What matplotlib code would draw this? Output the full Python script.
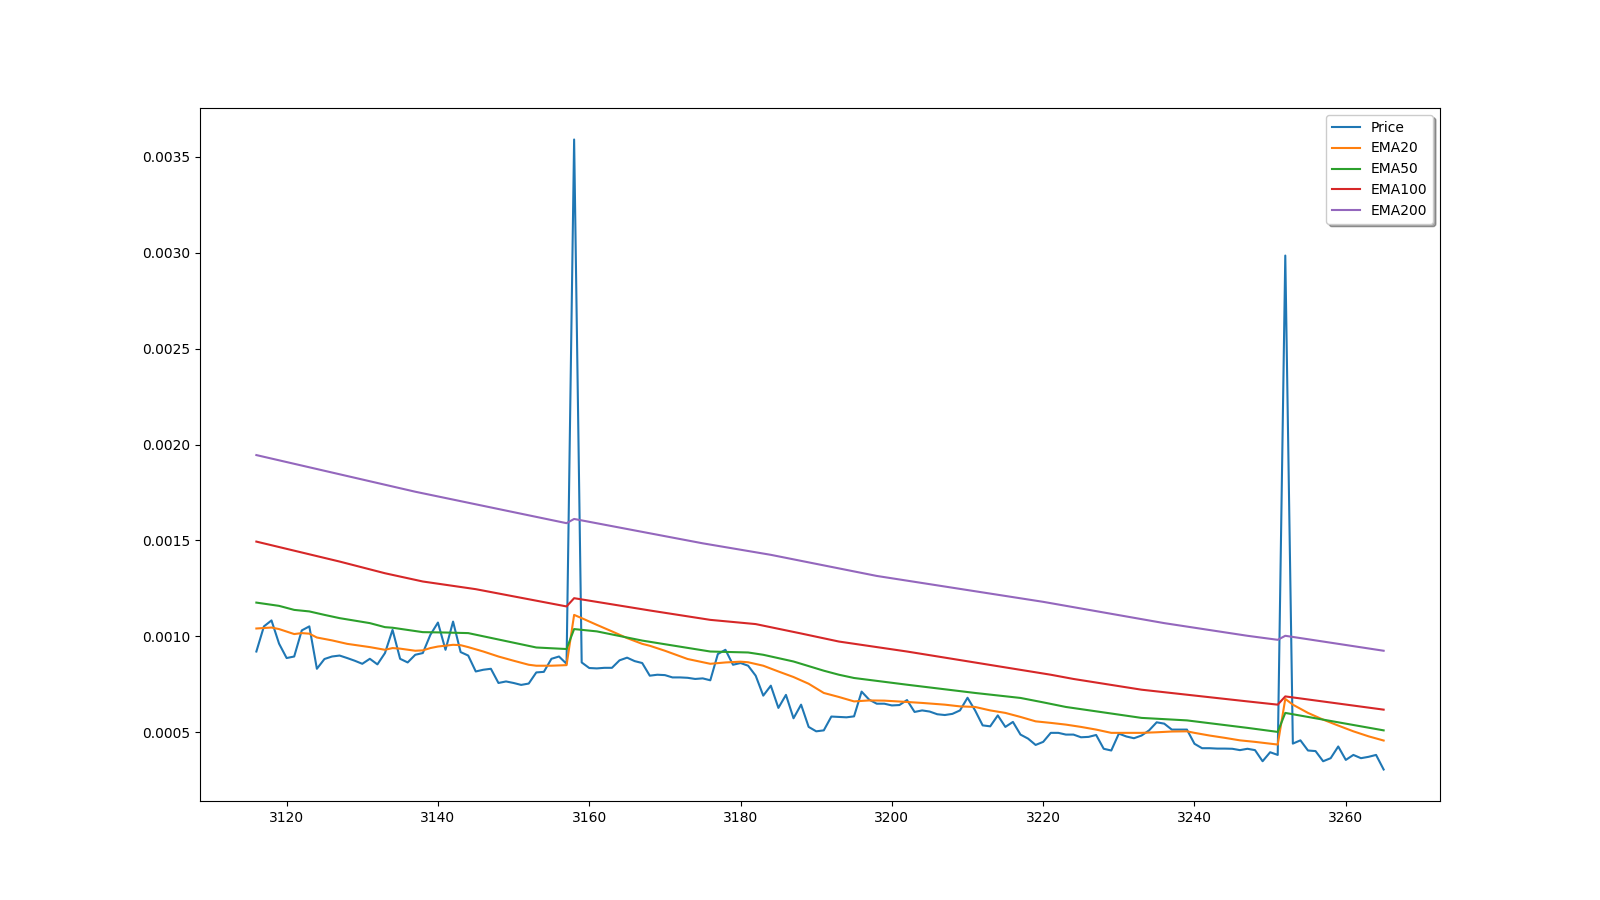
from matplotlib import pyplot as plt
import numpy as np


start_idx = 3116
price = [
    0.000921, 0.001052, 0.001083, 0.000962, 0.000887, 0.000895, 0.001031, 0.001052,
    0.000831, 0.000882, 0.000895, 0.000900, 0.000887, 0.000873, 0.000857, 0.000883,
    0.000854, 0.000913, 0.001034, 0.000883, 0.000864, 0.000904, 0.000913, 0.001008,
    0.001072, 0.000930, 0.001077, 0.000918, 0.000900, 0.000817, 0.000826, 0.000831,
    0.000757, 0.000765, 0.000757, 0.000747, 0.000754, 0.000812, 0.000815, 0.000883,
    0.000895, 0.000857, 0.003590, 0.000864, 0.000835, 0.000833, 0.000836, 0.000836,
    0.000875, 0.000889, 0.000871, 0.000861, 0.000795, 0.000800, 0.000798, 0.000786,
    0.000786, 0.000784, 0.000778, 0.000781, 0.000771, 0.000908, 0.000930, 0.000852,
    0.000861, 0.000847, 0.000795, 0.000691, 0.000743, 0.000627, 0.000695, 0.000573,
    0.000644, 0.000528, 0.000505, 0.000510, 0.000582, 0.000580, 0.000578, 0.000583,
    0.000712, 0.000670, 0.000649, 0.000649, 0.000640, 0.000642, 0.000668, 0.000606,
    0.000614, 0.000608, 0.000594, 0.000590, 0.000596, 0.000614, 0.000680, 0.000614,
    0.000536, 0.000531, 0.000588, 0.000528, 0.000554, 0.000488, 0.000467, 0.000434,
    0.000450, 0.000497, 0.000497, 0.000488, 0.000488, 0.000474, 0.000476, 0.000486,
    0.000414, 0.000405, 0.000493, 0.000478, 0.000469, 0.000483, 0.000510, 0.000552,
    0.000545, 0.000514, 0.000514, 0.000514, 0.000440, 0.000417, 0.000417, 0.000415,
    0.000415, 0.000414, 0.000407, 0.000414, 0.000407, 0.000349, 0.000396, 0.000382,
    0.002985, 0.000441, 0.000458, 0.000405, 0.000402, 0.000349, 0.000365, 0.000426,
    0.000356, 0.000382, 0.000365, 0.000372, 0.000382, 0.000306,
]

# EMA values read at the points where the lines bend
ema20_x = [3116, 3118, 3119, 3121, 3122, 3123, 3124, 3126, 3128, 3131, 3133, 3134,
           3135, 3137, 3138, 3139, 3140, 3142, 3143, 3144, 3146, 3148, 3150, 3152,
           3153, 3155, 3157, 3158, 3159, 3161, 3163, 3165, 3167, 3168, 3170, 3173,
           3176, 3178, 3180, 3181, 3183, 3185, 3187, 3189, 3191, 3193, 3195, 3197,
           3199, 3202, 3204, 3207, 3209, 3211, 3213, 3215, 3217, 3219, 3221, 3223,
           3225, 3227, 3229, 3231, 3233, 3235, 3237, 3239, 3240, 3242, 3244, 3246,
           3248, 3251, 3252, 3253, 3255, 3257, 3259, 3261, 3263, 3265]
ema20 = [0.001041, 0.001046, 0.001038, 0.001012, 0.001017, 0.001014, 0.000994,
         0.000979, 0.000961, 0.000944, 0.000930, 0.000939, 0.000936, 0.000925,
         0.000927, 0.000939, 0.000947, 0.000956, 0.000954, 0.000944, 0.000921,
         0.000895, 0.000873, 0.000852, 0.000847, 0.000847, 0.000850, 0.001112,
         0.001095, 0.001060, 0.001026, 0.000991, 0.000961, 0.000951, 0.000925,
         0.000882, 0.000857, 0.000864, 0.000868, 0.000865, 0.000847, 0.000817,
         0.000788, 0.000753, 0.000705, 0.000684, 0.000661, 0.000666, 0.000665,
         0.000658, 0.000653, 0.000644, 0.000635, 0.000632, 0.000614, 0.000601,
         0.000580, 0.000557, 0.000549, 0.000540, 0.000528, 0.000514, 0.000497,
         0.000497, 0.000497, 0.000500, 0.000504, 0.000505, 0.000497, 0.000483,
         0.000471, 0.000458, 0.000450, 0.000436, 0.000674, 0.000644, 0.000601,
         0.000566, 0.000535, 0.000505, 0.000479, 0.000457]

ema50_x = [3116, 3119, 3121, 3123, 3125, 3127, 3131, 3133, 3134, 3138, 3141, 3144,
           3153, 3157, 3158, 3161, 3167, 3176, 3181, 3183, 3187, 3191, 3193, 3195,
           3202, 3211, 3217, 3220, 3223, 3233, 3239, 3247, 3251, 3252, 3265]
ema50 = [0.001176, 0.001159, 0.001138, 0.001130, 0.001112, 0.001095, 0.001069,
         0.001048, 0.001045, 0.001022, 0.001020, 0.001017, 0.000942, 0.000934,
         0.001038, 0.001026, 0.000978, 0.000921, 0.000916, 0.000904, 0.000869,
         0.000821, 0.000800, 0.000783, 0.000748, 0.000705, 0.000679, 0.000656,
         0.000632, 0.000575, 0.000562, 0.000523, 0.000502, 0.000601, 0.000510]

ema100_x = [3116, 3127, 3133, 3138, 3145, 3157, 3158, 3168, 3176, 3182, 3188, 3193,
            3202, 3221, 3224, 3233, 3247, 3251, 3252, 3265]
ema100 = [0.001494, 0.001390, 0.001329, 0.001286, 0.001246, 0.001156, 0.001199,
          0.001135, 0.001086, 0.001064, 0.001015, 0.000973, 0.000921, 0.000800,
          0.000778, 0.000722, 0.000661, 0.000644, 0.000687, 0.000618]

ema200_x = [3116, 3137, 3157, 3158, 3175, 3184, 3198, 3220, 3236, 3247, 3251, 3252,
            3265]
ema200 = [0.001945, 0.001754, 0.001590, 0.001612, 0.001485, 0.001425, 0.001315,
          0.001180, 0.001069, 0.001003, 0.000982, 0.001003, 0.000925]


def main():
    idx = np.arange(start_idx, start_idx + len(price))
    plt.figure(figsize=(16, 9), dpi=100)
    plt.plot(idx, price, label='Price')
    plt.plot(ema20_x, ema20, label='EMA20')
    plt.plot(ema50_x, ema50, label='EMA50')
    plt.plot(ema100_x, ema100, label='EMA100')
    plt.plot(ema200_x, ema200, label='EMA200')
    plt.legend(loc='upper right', shadow=True)
    plt.savefig('out.png')


if __name__ == "__main__":
    main()
